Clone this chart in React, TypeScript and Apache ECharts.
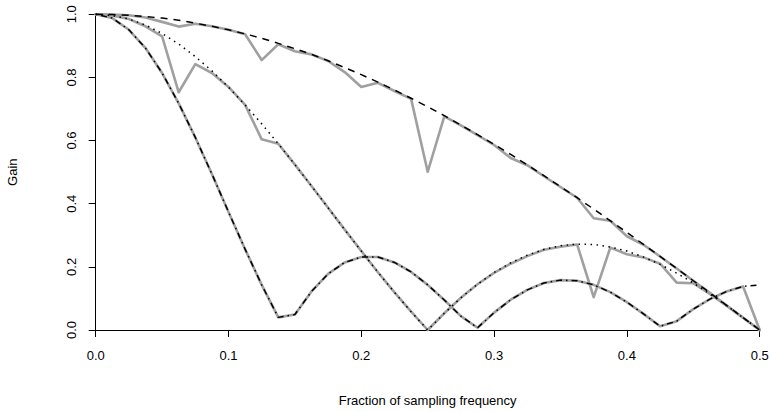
import React, { useEffect, useRef } from "react";
import * as echarts from "echarts";

// Fraction of sampling frequency (grid of 1/80)
const frequency = [
  0, 0.0125, 0.025, 0.0375, 0.05, 0.0625, 0.075, 0.0875, 0.1, 0.1125,
  0.125, 0.1375, 0.15, 0.1625, 0.175, 0.1875, 0.2, 0.2125, 0.225, 0.2375,
  0.25, 0.2625, 0.275, 0.2875, 0.3, 0.3125, 0.325, 0.3375, 0.35, 0.3625,
  0.375, 0.3875, 0.4, 0.4125, 0.425, 0.4375, 0.45, 0.4625, 0.475, 0.4875, 0.5,
];

// Theoretical gains (black lines)
const theoryA = [
  1, 0.999, 0.997, 0.993, 0.988, 0.981, 0.972, 0.962, 0.951, 0.938,
  0.924, 0.908, 0.891, 0.873, 0.853, 0.831, 0.809, 0.785, 0.76, 0.734,
  0.707, 0.679, 0.649, 0.619, 0.588, 0.556, 0.523, 0.489, 0.454, 0.419,
  0.383, 0.346, 0.309, 0.271, 0.233, 0.195, 0.156, 0.118, 0.078, 0.039, 0,
];
const theoryB = [
  1, 0.996, 0.985, 0.966, 0.939, 0.906, 0.866, 0.821, 0.769, 0.713,
  0.653, 0.59, 0.524, 0.456, 0.387, 0.318, 0.25, 0.183, 0.119, 0.058,
  0, 0.053, 0.102, 0.145, 0.182, 0.213, 0.237, 0.255, 0.267, 0.272,
  0.271, 0.263, 0.25, 0.231, 0.208, 0.18, 0.149, 0.114, 0.078, 0.039, 0,
];
const theoryC = [
  1, 0.988, 0.951, 0.893, 0.814, 0.718, 0.61, 0.494, 0.374, 0.256,
  0.143, 0.04, 0.049, 0.122, 0.178, 0.214, 0.231, 0.231, 0.214, 0.184,
  0.143, 0.095, 0.044, 0.007, 0.055, 0.096, 0.127, 0.149, 0.158, 0.156,
  0.143, 0.12, 0.088, 0.051, 0.012, 0.028, 0.066, 0.098, 0.122, 0.138, 0.143,
];

// Estimated gains (grey lines)
const estimateA = [
  1, 0.999, 0.997, 0.99, 0.976, 0.961, 0.97, 0.962, 0.951, 0.937,
  0.855, 0.905, 0.883, 0.873, 0.852, 0.817, 0.77, 0.783, 0.757, 0.732,
  0.501, 0.677, 0.648, 0.617, 0.586, 0.545, 0.522, 0.487, 0.453, 0.419,
  0.354, 0.346, 0.297, 0.27, 0.233, 0.195, 0.156, 0.118, 0.078, 0.039, 0,
];
const estimateB = [
  1, 0.996, 0.985, 0.962, 0.93, 0.753, 0.842, 0.814, 0.77, 0.713,
  0.604, 0.59, 0.524, 0.456, 0.387, 0.318, 0.25, 0.183, 0.119, 0.058,
  0, 0.053, 0.102, 0.145, 0.181, 0.21, 0.234, 0.254, 0.264, 0.271,
  0.104, 0.261, 0.24, 0.23, 0.21, 0.15, 0.148, 0.114, 0.077, 0.039, 0,
];
const estimateC = [
  1, 0.988, 0.951, 0.893, 0.814, 0.718, 0.61, 0.494, 0.374, 0.256,
  0.143, 0.04, 0.049, 0.122, 0.178, 0.214, 0.231, 0.231, 0.214, 0.184,
  0.143, 0.095, 0.044, 0.007, 0.055, 0.096, 0.127, 0.149, 0.158, 0.156,
  0.143, 0.12, 0.088, 0.051, 0.012, 0.028, 0.066, 0.098, 0.122, 0.138, 0,
];

const xTicks = [0, 0.1, 0.2, 0.3, 0.4, 0.5];
const yTicks = [0, 0.2, 0.4, 0.6, 0.8, 1.0];

const FONT = "'Liberation Sans', Arial, Helvetica, sans-serif";

function pairs(ys: number[]) {
  return frequency.map((f, i) => [f, ys[i]]);
}

export default function App() {
  const ref = useRef<HTMLDivElement>(null);

  useEffect(() => {
    if (!ref.current) return;
    const chart = echarts.init(ref.current, null, { renderer: "svg" });

    const grey = (name: string, ys: number[]) => ({
      name,
      type: "line",
      data: pairs(ys),
      symbol: "none",
      clip: false,
      lineStyle: { color: "#a0a0a0", width: 2.6, type: "solid", cap: "round", join: "round" },
      z: 2,
    });
    const black = (name: string, ys: number[], dash: number[]) => ({
      name,
      type: "line",
      data: pairs(ys),
      symbol: "none",
      clip: false,
      lineStyle: { color: "#000", width: 1.5, type: dash },
      z: 3,
    });

    chart.setOption({
      animation: false,
      backgroundColor: "#fff",
      grid: {
        left: 95.7,
        right: 9.3,
        top: 14.3,
        bottom: 82,
        containLabel: false,
        outerBoundsMode: "none",
      },
      xAxis: {
        type: "value",
        min: xTicks[0],
        max: xTicks[xTicks.length - 1],
        interval: 0.1,
        name: "Fraction of sampling frequency",
        nameLocation: "middle",
        nameGap: 64,
        nameTextStyle: { fontFamily: FONT, fontSize: 13, color: "#000" },
        axisLine: { show: true, onZero: false, lineStyle: { color: "#000", width: 1 } },
        axisTick: { show: true, length: 7, inside: false, lineStyle: { color: "#000", width: 1 } },
        axisLabel: {
          fontFamily: FONT,
          fontSize: 13,
          color: "#000",
          margin: 19,
          formatter: (v: number) => v.toFixed(1),
        },
        splitLine: { show: false },
      },
      yAxis: {
        type: "value",
        min: yTicks[0],
        max: yTicks[yTicks.length - 1],
        interval: 0.2,
        name: "Gain",
        nameLocation: "middle",
        nameRotate: 90,
        nameGap: 77,
        nameTextStyle: { fontFamily: FONT, fontSize: 13, color: "#000" },
        axisLine: { show: true, onZero: false, lineStyle: { color: "#000", width: 1 } },
        axisTick: { show: true, length: 7, inside: false, lineStyle: { color: "#000", width: 1 } },
        axisLabel: {
          fontFamily: FONT,
          fontSize: 13,
          color: "#000",
          rotate: 90,
          margin: 18,
          formatter: (v: number) => v.toFixed(1),
        },
        splitLine: { show: false },
      },
      series: [
        grey("estimate A", estimateA),
        grey("estimate B", estimateB),
        grey("estimate C", estimateC),
        black("theory A", theoryA, [7, 6]),
        black("theory B", theoryB, [1.5, 4.5]),
        black("theory C", theoryC, [1.5, 4, 6, 4]),
      ],
    });

    return () => chart.dispose();
  }, []);

  return (
    <div
      ref={ref}
      style={{ position: "fixed", left: 0, top: 0, width: 769, height: 412, background: "#fff" }}
    />
  );
}
